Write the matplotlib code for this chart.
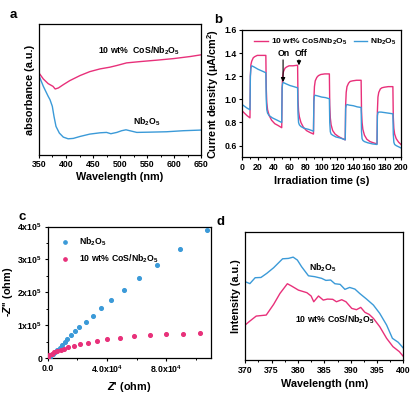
import numpy as np
import matplotlib
matplotlib.use("Agg")
import matplotlib.pyplot as plt
from matplotlib.ticker import MultipleLocator, FixedLocator, FixedFormatter

plt.rcParams["font.family"] = ["Liberation Sans", "DejaVu Sans"]
plt.rcParams["font.weight"] = "bold"
plt.rcParams["axes.labelweight"] = "bold"
plt.rcParams["mathtext.fontset"] = "custom"
plt.rcParams["mathtext.rm"] = "Liberation Sans:bold"
plt.rcParams["mathtext.bf"] = "Liberation Sans:bold"
plt.rcParams["mathtext.it"] = "Liberation Sans:italic:bold"
plt.rcParams["mathtext.default"] = "rm"

PINK = "#e8307a"
BLUE = "#3b9ad8"
NB = "Nb$_2$O$_5$"
COS = "10 wt% CoS/Nb$_2$O$_5$"

# ── (a) UV-vis absorbance (arbitrary units) ──
a_wl_cos = [350, 358, 367, 373.5, 376, 380, 386, 395, 407, 426, 444, 463, 481,
            494, 512, 537, 568, 599, 630, 650]
a_ab_cos = [0.628, 0.582, 0.546, 0.531, 0.525, 0.505, 0.513, 0.538, 0.569, 0.608,
            0.638, 0.659, 0.672, 0.685, 0.705, 0.715, 0.726, 0.738, 0.754, 0.767]
a_wl_nb = [350, 358, 367, 370.4, 374.7, 377.8, 381.5, 387.7, 395, 404, 413.5, 426,
           444, 463, 475, 483, 494, 503, 511, 518, 531, 555, 586, 617, 650]
a_ab_nb = [0.608, 0.526, 0.449, 0.423, 0.372, 0.295, 0.218, 0.167, 0.136, 0.123,
           0.126, 0.141, 0.159, 0.169, 0.172, 0.162, 0.172, 0.185, 0.192, 0.185,
           0.172, 0.174, 0.177, 0.185, 0.19]

# ── (b) photocurrent ──
b_t_cos = [0, 3, 6, 9.8, 10.3, 11, 12, 14, 16, 19, 24, 29.8,
           30.3, 31, 32, 34, 37, 41, 45, 49.8,
           50.3, 51, 52, 54, 56, 59, 64, 69.8,
           70.3, 71, 72, 74, 77, 81, 85, 89.8,
           90.3, 91, 92, 94, 96, 99, 104, 109.8,
           110.3, 111, 112, 114, 117, 121, 125, 129.8,
           130.3, 131, 132, 134, 136, 139, 144, 149.8,
           150.3, 151, 152, 154, 157, 161, 165, 169.8,
           170.3, 171, 172, 174, 176, 179, 184, 189.8,
           190.3, 191, 192, 194, 197, 200]
b_j_cos = [0.90, 0.88, 0.86, 0.84,
           1.20, 1.30, 1.33, 1.36, 1.37, 1.38, 1.38, 1.38,
           1.10, 0.97, 0.91, 0.86, 0.82, 0.79, 0.775, 0.755,
           1.10, 1.20, 1.24, 1.27, 1.28, 1.29, 1.29, 1.295,
           1.00, 0.90, 0.85, 0.80, 0.76, 0.73, 0.715, 0.70,
           1.00, 1.11, 1.16, 1.19, 1.205, 1.215, 1.22, 1.22,
           0.95, 0.84, 0.78, 0.73, 0.70, 0.68, 0.665, 0.65,
           0.95, 1.06, 1.11, 1.14, 1.155, 1.16, 1.165, 1.165,
           0.90, 0.80, 0.74, 0.69, 0.655, 0.635, 0.625, 0.615,
           0.90, 1.02, 1.06, 1.09, 1.10, 1.105, 1.11, 1.11,
           0.85, 0.75, 0.70, 0.66, 0.63, 0.61]
b_t_nb = [0, 3, 6, 9.8, 10.3, 11, 12, 15, 20, 25, 29.8,
          30.3, 31, 32, 34, 38, 44, 49.8,
          50.3, 51, 52, 55, 60, 65, 69.8,
          70.3, 71, 72, 74, 78, 84, 89.8,
          90.3, 91, 92, 95, 100, 105, 109.8,
          110.3, 111, 112, 114, 118, 124, 129.8,
          130.3, 131, 132, 135, 140, 145, 149.8,
          150.3, 151, 152, 154, 158, 164, 169.8,
          170.3, 171, 172, 175, 180, 185, 189.8,
          190.3, 191, 192, 194, 197, 200]
b_j_nb = [0.955, 0.94, 0.925, 0.91,
          1.20, 1.27, 1.29, 1.28, 1.26, 1.245, 1.23,
          1.00, 0.91, 0.88, 0.86, 0.84, 0.82, 0.80,
          1.10, 1.14, 1.145, 1.135, 1.12, 1.11, 1.10,
          0.88, 0.80, 0.78, 0.765, 0.75, 0.74, 0.725,
          0.98, 1.03, 1.035, 1.03, 1.02, 1.015, 1.005,
          0.80, 0.72, 0.70, 0.69, 0.675, 0.665, 0.65,
          0.92, 0.95, 0.955, 0.95, 0.945, 0.935, 0.93,
          0.72, 0.66, 0.645, 0.635, 0.625, 0.615, 0.61,
          0.86, 0.885, 0.89, 0.89, 0.885, 0.88, 0.875,
          0.70, 0.63, 0.61, 0.60, 0.59, 0.58]

# ── (c) Nyquist ──
c_zr_nb = [0.02e4, 0.13e4, 0.24e4, 0.38e4, 0.51e4, 0.65e4, 0.81e4, 0.96e4, 1.14e4,
           1.33e4, 1.55e4, 1.81e4, 2.14e4, 2.56e4, 3.05e4, 3.61e4, 4.30e4, 5.13e4,
           6.14e4, 7.39e4, 8.90e4, 10.78e4]
c_zi_nb = [0.02e5, 0.05e5, 0.09e5, 0.14e5, 0.19e5, 0.25e5, 0.32e5, 0.40e5, 0.49e5,
           0.58e5, 0.69e5, 0.81e5, 0.94e5, 1.10e5, 1.29e5, 1.51e5, 1.77e5, 2.08e5,
           2.43e5, 2.84e5, 3.31e5, 3.88e5]
c_zr_cos = [0.01e4, 0.04e4, 0.11e4, 0.27e4, 0.44e4, 0.65e4, 0.87e4, 1.10e4, 1.39e4,
            1.75e4, 2.17e4, 2.73e4, 3.34e4, 4.03e4, 4.88e4, 5.82e4, 6.88e4, 7.95e4,
            9.12e4, 10.29e4]
c_zi_cos = [0.2e4, 0.5e4, 1.0e4, 1.4e4, 1.8e4, 2.2e4, 2.6e4, 2.9e4, 3.4e4,
            3.8e4, 4.3e4, 4.7e4, 5.2e4, 5.7e4, 6.2e4, 6.6e4, 6.9e4, 7.2e4,
            7.4e4, 7.6e4]

# ── (d) PL spectra (arbitrary units) ──
d_wl_nb = [370, 370.9, 371.9, 373, 374.1, 375.4, 377.1, 378.2, 379.1, 379.9, 380.7,
           382, 383.2, 384.5, 385.3, 386.2, 387, 388, 388.9, 389.8, 390.8, 391.7,
           393, 394.3, 395.5, 396.8, 397.9, 399, 400]
d_in_nb = [0.615, 0.60, 0.646, 0.648, 0.68, 0.724, 0.794, 0.797, 0.807, 0.784, 0.732,
           0.661, 0.654, 0.641, 0.625, 0.628, 0.599, 0.594, 0.555, 0.57, 0.557, 0.523,
           0.479, 0.432, 0.367, 0.276, 0.172, 0.141, 0.094]
d_wl_cos = [370, 370.9, 372.1, 374, 375.4, 376.6, 378, 378.8, 380.1, 381.7, 382.5,
            383, 383.9, 384.8, 385.6, 386.6, 387.3, 388.3, 389.1, 390.2, 391.1, 391.9,
            392.7, 393.5, 394.3, 395.5, 396.8, 398, 399.2, 400]
d_in_cos = [0.276, 0.307, 0.346, 0.354, 0.4375, 0.523, 0.599, 0.581, 0.549, 0.529,
            0.503, 0.458, 0.503, 0.471, 0.479, 0.477, 0.458, 0.474, 0.458, 0.406,
            0.396, 0.414, 0.375, 0.359, 0.328, 0.263, 0.172, 0.107, 0.068, 0.029]

fig = plt.figure(figsize=(4.19, 3.94), dpi=100)
axa = fig.add_axes([0.093, 0.607, 0.387, 0.331])
axb = fig.add_axes([0.578, 0.601, 0.379, 0.323])
axc = fig.add_axes([0.114, 0.091, 0.389, 0.334])
axd = fig.add_axes([0.585, 0.0855, 0.378, 0.3245])

TICK = 6.3
LAB = 7.8
for ax in (axa, axb, axc, axd):
    for s in ax.spines.values():
        s.set_linewidth(0.9)
    ax.tick_params(direction="out", length=2.5, width=0.8, labelsize=TICK, pad=1.5)
    ax.tick_params(which="minor", direction="out", length=1.5, width=0.7)

# (a)
axa.plot(a_wl_cos, a_ab_cos, color=PINK, lw=1.0)
axa.plot(a_wl_nb, a_ab_nb, color=BLUE, lw=1.0)
axa.set_xlim(350, 650)
axa.set_ylim(0, 1)
axa.xaxis.set_major_locator(MultipleLocator(50))
axa.xaxis.set_minor_locator(MultipleLocator(25))
axa.set_yticks([])
axa.set_xlabel("Wavelength (nm)", fontsize=LAB, labelpad=2)
axa.set_ylabel("absorbance (a.u.)", fontsize=LAB, labelpad=3)
axa.text(536, 0.80, "10 wt%  CoS/Nb$_2$O$_5$", fontsize=6.3, ha="center", va="center")
axa.text(549, 0.25, NB, fontsize=6.3, ha="center", va="center")

# (b)
axb.plot(b_t_cos, b_j_cos, color=PINK, lw=1.0, label=COS)
axb.plot(b_t_nb, b_j_nb, color=BLUE, lw=1.0, label=NB)
axb.set_xlim(0, 200)
axb.set_ylim(0.5, 1.6)
axb.xaxis.set_major_locator(MultipleLocator(20))
axb.xaxis.set_minor_locator(MultipleLocator(10))
axb.set_yticks([0.6, 0.8, 1.0, 1.2, 1.4, 1.6])
axb.set_xlabel("Irradiation time (s)", fontsize=LAB, labelpad=3)
axb.set_ylabel("Current density (μA/cm$^2$)", fontsize=LAB, labelpad=2)
axb.legend(loc="center", bbox_to_anchor=(0.525, 0.905), ncol=2, frameon=False,
           fontsize=6.0, handlelength=1.6, handletextpad=0.4, columnspacing=0.8,
           borderaxespad=0.0, borderpad=0.0)
axb.annotate("", xy=(51.5, 1.125), xytext=(51.5, 1.365),
             arrowprops=dict(arrowstyle="-|>", color="k", lw=0.8, mutation_scale=6))
axb.annotate("", xy=(71.5, 1.27), xytext=(71.5, 1.365),
             arrowprops=dict(arrowstyle="-|>", color="k", lw=0.8, mutation_scale=6))
axb.text(52.5, 1.395, "On", fontsize=6.3, ha="center", va="center")
axb.text(74, 1.395, "Off", fontsize=6.3, ha="center", va="center")

# (c)
axc.scatter(c_zr_nb, c_zi_nb, s=7, color=BLUE, label=NB, zorder=3)
axc.scatter(c_zr_cos, c_zi_cos, s=7, color=PINK, label=COS, zorder=3)
axc.set_xlim(0, 1.1e5)
axc.set_ylim(0, 4e5)
axc.xaxis.set_major_locator(FixedLocator([0, 4e4, 8e4]))
axc.xaxis.set_major_formatter(FixedFormatter(["0.0", "4.0x10$^4$", "8.0x10$^4$"]))
axc.xaxis.set_minor_locator(MultipleLocator(2e4))
axc.yaxis.set_major_locator(FixedLocator([0, 1e5, 2e5, 3e5, 4e5]))
axc.yaxis.set_major_formatter(FixedFormatter(["0", "1x10$^5$", "2x10$^5$", "3x10$^5$", "4x10$^5$"]))
axc.yaxis.set_minor_locator(MultipleLocator(0.5e5))
axc.set_xlabel("$\\mathit{Z}$' (ohm)", fontsize=LAB, labelpad=3)
axc.set_ylabel("-$\\mathit{Z}$'' (ohm)", fontsize=LAB, labelpad=2)
axc.legend(loc="upper left", frameon=False, fontsize=6.3, handletextpad=0.6,
           borderaxespad=0.6, labelspacing=0.5, markerscale=0.9)

# (d)
axd.plot(d_wl_nb, d_in_nb, color=BLUE, lw=1.0)
axd.plot(d_wl_cos, d_in_cos, color=PINK, lw=1.0)
axd.set_xlim(370, 400)
axd.set_ylim(0, 1)
axd.xaxis.set_major_locator(MultipleLocator(5))
axd.xaxis.set_minor_locator(MultipleLocator(2.5))
axd.set_yticks([])
axd.set_xlabel("Wavelength (nm)", fontsize=LAB, labelpad=3)
axd.set_ylabel("Intensity (a.u.)", fontsize=LAB, labelpad=3)
axd.text(384.8, 0.723, NB, fontsize=6.3, ha="center", va="center")
axd.text(387, 0.32, COS, fontsize=6.3, ha="center", va="center")

# panel letters
for lbl, x, y in (("a", 0.031, 0.962), ("b", 0.520, 0.950), ("c", 0.052, 0.449), ("d", 0.527, 0.437)):
    fig.text(x, y, lbl, fontsize=9.5, fontweight="bold", ha="center", va="center")

fig.savefig("out.png", dpi=100)
